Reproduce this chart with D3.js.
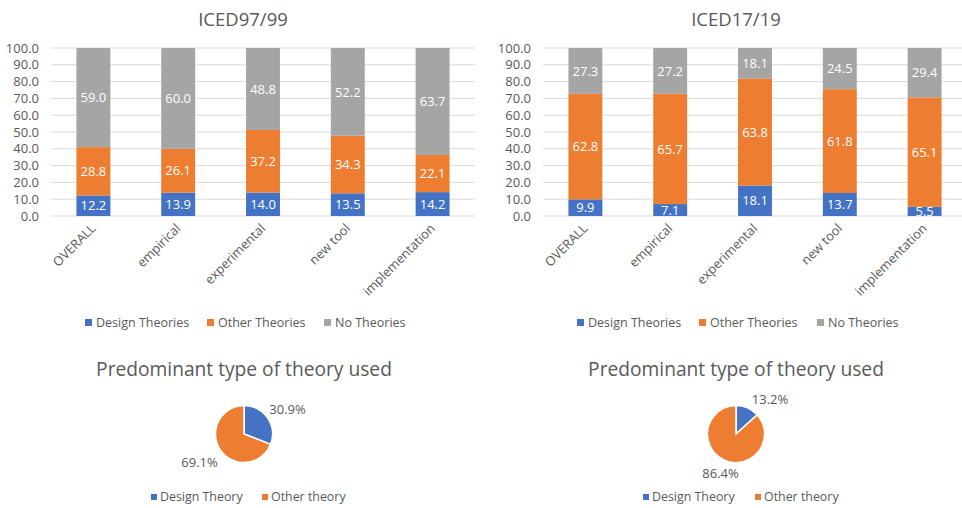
<!DOCTYPE html>
<html><head><meta charset="utf-8">
<script src="https://cdn.jsdelivr.net/npm/d3@7"></script>
<style>body{margin:0;background:#fff;} svg{display:block;font-family:"Open Sans",sans-serif;}</style>
</head><body>
<svg id="c" width="962" height="508"></svg>
<script>
const categories = ["OVERALL","empirical","experimental","new tool","implementation"];
const seriesNames = ["Design Theories","Other Theories","No Theories"];
const design9799 = [12.2,13.9,14.0,13.5,14.2];
const other9799  = [28.8,26.1,37.2,34.3,22.1];
const none9799   = [59.0,60.0,48.8,52.2,63.7];
const design1719 = [9.9,7.1,18.1,13.7,5.5];
const other1719  = [62.8,65.7,63.8,61.8,65.1];
const none1719   = [27.3,27.2,18.1,24.5,29.4];
const yTicks = [0,10,20,30,40,50,60,70,80,90,100];
const pieNames = ["Design Theory","Other theory"];
const pie9799 = [30.9,69.1];
const pie1719 = [13.2,86.4];
const colors = ["#4472C4","#ED7D31","#A5A5A5"];
const textCol = "#595959";

const svg = d3.select("#c");
const defs = svg.append("defs");

function barChart(id, title, vals, x0, x1, titleX, legendXs){
  const g = svg.append("g");
  const y = d3.scaleLinear().domain([0,100]).range([216,48]);
  const x = d3.scaleBand().domain(categories).range([x0,x1]).paddingInner(0.6).paddingOuter(0.3);
  g.append("text").attr("x",titleX).attr("y",26).attr("text-anchor","middle")
    .attr("font-size",18.5).attr("fill",textCol).text(title);
  g.selectAll(".grid").data(yTicks).enter().append("line")
    .attr("x1",x0).attr("x2",Math.min(x1,962)).attr("y1",d=>y(d)).attr("y2",d=>y(d))
    .attr("stroke","#D9D9D9").attr("stroke-width",1);
  const ax = g.append("g").attr("transform",`translate(${x0-12},0)`)
    .call(d3.axisLeft(y).tickValues(yTicks).tickFormat(d3.format(".1f")).tickSize(0).tickPadding(0));
  ax.select(".domain").remove();
  ax.selectAll("text").attr("font-size",13).attr("fill",textCol).attr("font-family","Open Sans");
  const rows = categories.map((c,i)=>({cat:c, s0:vals[0][i], s1:vals[1][i], s2:vals[2][i]}));
  const stack = d3.stack().keys(["s0","s1","s2"])(rows);
  defs.append("clipPath").attr("id",id).append("rect").attr("x",x0).attr("y",40).attr("width",x1-x0).attr("height",176);
  stack.forEach((layer,k)=>{
    g.selectAll(".b"+k).data(layer).enter().append("rect")
      .attr("x",d=>x(d.data.cat)).attr("width",x.bandwidth())
      .attr("y",d=>y(d[1])).attr("height",d=>y(d[0])-y(d[1]))
      .attr("fill",colors[k]);
  });
  const lg = g.append("g").attr("clip-path",`url(#${id})`);
  stack.forEach((layer,k)=>{
    lg.selectAll(".l"+k).data(layer).enter().append("text")
      .attr("x",d=>x(d.data.cat)+x.bandwidth()/2).attr("y",d=>y((d[0]+d[1])/2))
      .attr("dy","0.36em").attr("text-anchor","middle").attr("font-size",13).attr("fill","#fff")
      .text(d=>d3.format(".1f")(d[1]-d[0]));
  });
  g.selectAll(".cat").data(categories).enter().append("text")
    .attr("transform",d=>`translate(${x(d)+x.bandwidth()/2},${226}) rotate(-45)`)
    .attr("text-anchor","end").attr("dy","0.35em").attr("font-size",12.8).attr("fill",textCol).text(d=>d);
  seriesNames.forEach((n,k)=>{
    g.append("rect").attr("x",legendXs[k]).attr("y",319).attr("width",7).attr("height",7).attr("fill",colors[k]);
    g.append("text").attr("x",legendXs[k]+11).attr("y",323).attr("dy","0.35em").attr("font-size",12.5).attr("fill",textCol).text(n);
  });
}

barChart("clipA","ICED97/99",[design9799,other9799,none9799],51,475,243,[85,207,324]);
barChart("clipB","ICED17/19",[design1719,other1719,none1719],543,967,736,[577,699,817]);

function pieChart(title, vals, cx, labelPos, legendXs){
  const g = svg.append("g");
  g.append("text").attr("x",cx).attr("y",376).attr("text-anchor","middle")
    .attr("font-size",19.2).attr("fill",textCol).text(title);
  const pie = d3.pie().sort(null).value(d=>d)(vals);
  const arc = d3.arc().innerRadius(0).outerRadius(28.5);
  const pg = g.append("g").attr("transform",`translate(${cx},434)`);
  pg.selectAll("path").data(pie).enter().append("path").attr("d",arc)
    .attr("fill",(d,i)=>colors[i]).attr("stroke","#fff").attr("stroke-width",1.5);
  vals.forEach((v,i)=>{
    g.append("text").attr("x",labelPos[i][0]).attr("y",labelPos[i][1]).attr("dy","0.35em")
      .attr("text-anchor","middle").attr("font-size",13).attr("fill",textCol).text(d3.format(".1f")(v)+"%");
  });
  pieNames.forEach((n,k)=>{
    g.append("rect").attr("x",legendXs[k]).attr("y",494).attr("width",6).attr("height",6).attr("fill",colors[k]);
    g.append("text").attr("x",legendXs[k]+9).attr("y",497).attr("dy","0.35em").attr("font-size",12.4).attr("fill",textCol).text(n);
  });
}
pieChart("Predominant type of theory used", pie9799, 244, [[287.5,409],[199.5,462]], [151,262]);
pieChart("Predominant type of theory used", pie1719, 736, [[770,399],[720.5,473]], [643,755]);
</script>
</body></html>
